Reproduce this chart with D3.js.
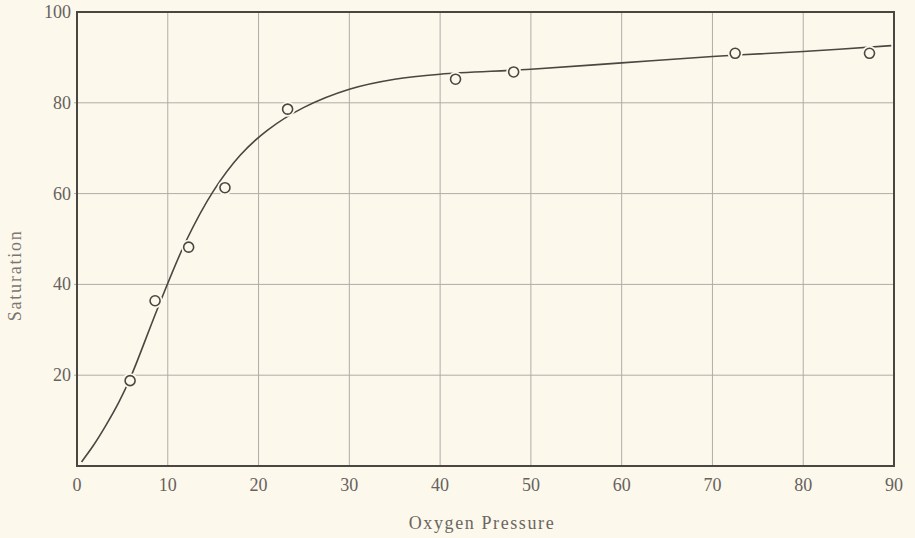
<!DOCTYPE html>
<html>
<head>
<meta charset="utf-8">
<script src="https://cdn.jsdelivr.net/npm/d3@7"></script>
<style>
  html, body { margin: 0; padding: 0; background: #fdf8ec; }
  svg { display: block; }
</style>
</head>
<body>
<div id="chart"></div>
<script>
// observed points (oxygen pressure, saturation)
const pressure = [5.85, 8.6, 12.3, 16.3, 23.2, 41.7, 48.1, 72.5, 87.3];
const saturation = [18.8, 36.4, 48.2, 61.3, 78.6, 85.2, 86.8, 90.9, 90.9];

// fitted curve
const curveX = [0.5, 1.8, 3.2, 4.6, 6, 9, 12, 15, 18, 21, 25, 30, 35, 40, 50, 60, 70, 80, 89.7];
const curveY = [0.9, 4.5, 9, 14, 20, 35.3, 49.5, 60.5, 68.5, 74, 79, 83, 85.2, 86.3, 87.4, 88.8, 90.2, 91.3, 92.6];

const xTicks = [0, 10, 20, 30, 40, 50, 60, 70, 80, 90];
const yTicks = [20, 40, 60, 80, 100];

const width = 915, height = 538;
const margin = { top: 12, right: 20, bottom: 72, left: 77 };

const bg = '#fdf8ec';
const ink = '#4a4642';
const serif = 'Liberation Serif, DejaVu Serif, serif';

const svg = d3.select('#chart').append('svg')
  .attr('width', width)
  .attr('height', height)
  .style('background', bg);

const x = d3.scaleLinear().domain([0, 90]).range([margin.left, width - margin.right - 1]);
const y = d3.scaleLinear().domain([0, 100]).range([height - margin.bottom, margin.top]);

// grid
svg.append('g')
  .selectAll('line.v')
  .data(xTicks.slice(1, -1))
  .enter().append('line')
  .attr('x1', d => x(d)).attr('x2', d => x(d))
  .attr('y1', y(100)).attr('y2', y(0))
  .attr('stroke', '#b0aca6').attr('stroke-width', 1);

svg.append('g')
  .selectAll('line.h')
  .data(yTicks.slice(0, -1))
  .enter().append('line')
  .attr('x1', x(0) - 3).attr('x2', x(90))
  .attr('y1', d => y(d)).attr('y2', d => y(d))
  .attr('stroke', '#b0aca6').attr('stroke-width', 1);

// frame
svg.append('rect')
  .attr('x', x(0)).attr('y', y(100))
  .attr('width', x(90) - x(0)).attr('height', y(0) - y(100))
  .attr('fill', 'none')
  .attr('stroke', ink).attr('stroke-width', 2);

// tick labels
svg.append('g')
  .selectAll('text')
  .data(xTicks)
  .enter().append('text')
  .attr('x', d => x(d))
  .attr('y', y(0) + 25)
  .attr('text-anchor', 'middle')
  .attr('font-family', serif)
  .attr('font-size', 18)
  .attr('fill', '#66625d')
  .text(d => d);

svg.append('g')
  .selectAll('text')
  .data(yTicks)
  .enter().append('text')
  .attr('x', x(0) - 6)
  .attr('y', d => y(d) + 6)
  .attr('text-anchor', 'end')
  .attr('font-family', serif)
  .attr('font-size', 18)
  .attr('fill', '#66625d')
  .text(d => d);

// axis titles
svg.append('text')
  .attr('x', 482).attr('y', 529)
  .attr('text-anchor', 'middle')
  .attr('font-family', serif)
  .attr('font-size', 18)
  .attr('letter-spacing', 1.6)
  .attr('fill', '#6a6661')
  .text('Oxygen Pressure');

svg.append('text')
  .attr('transform', `translate(21, ${y(42)}) rotate(-90)`)
  .attr('text-anchor', 'middle')
  .attr('font-family', serif)
  .attr('font-size', 18)
  .attr('letter-spacing', 1.8)
  .attr('fill', '#7a7671')
  .text('Saturation');

// curve
const line = d3.line()
  .x(d => x(d[0]))
  .y(d => y(d[1]))
  .curve(d3.curveCatmullRom.alpha(0.5));

svg.append('path')
  .datum(d3.zip(curveX, curveY))
  .attr('d', line)
  .attr('fill', 'none')
  .attr('stroke', ink)
  .attr('stroke-width', 1.6);

// points
const pts = d3.zip(pressure, saturation);
svg.append('g')
  .selectAll('circle.halo')
  .data(pts)
  .enter().append('circle')
  .attr('cx', d => x(d[0])).attr('cy', d => y(d[1]))
  .attr('r', 7.5)
  .attr('fill', bg);

svg.append('g')
  .selectAll('circle.pt')
  .data(pts)
  .enter().append('circle')
  .attr('cx', d => x(d[0])).attr('cy', d => y(d[1]))
  .attr('r', 5)
  .attr('fill', bg)
  .attr('stroke', ink)
  .attr('stroke-width', 1.6);
</script>
</body>
</html>
